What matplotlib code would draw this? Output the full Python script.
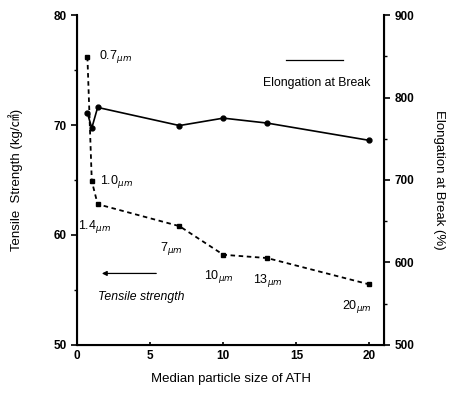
import matplotlib as mpl
import matplotlib.pyplot as plt
import numpy as np

mpl.rcParams['font.family'] = ['Liberation Sans', 'Noto Sans CJK JP', 'DejaVu Sans']

# tensile strength (left axis, dashed)
ts_size = [0.7, 1.0, 1.4, 7, 10, 13, 20]
ts_val = [76.2, 64.9, 62.8, 60.8, 58.2, 57.9, 55.5]
ts_lab = ['0.7', '1.0', '1.4', '7', '10', '13', '20']

# elongation at break (right axis, solid)
el_size = [0.7, 1.0, 1.4, 7, 10, 13, 20]
el_val = [781, 763, 788, 766, 775, 769, 748]

fig = plt.figure(figsize=(4.54, 3.96), dpi=100)
ax = fig.add_axes([0.17, 0.129, 0.676, 0.833])
ax2 = ax.twinx()

ax.plot(ts_size, ts_val, color='black', linestyle=(0, (2.5, 2)), linewidth=1.3,
        marker='s', markersize=3.5)
ax2.plot(el_size, el_val, color='black', linestyle='-', linewidth=1.2,
         marker='o', markersize=3.5)

ax.set_xlim(0, 21)
ax.set_ylim(50, 80)
ax2.set_ylim(500, 900)

ax.set_xticks([0, 5, 10, 15, 20])
ax.set_yticks([50, 60, 70, 80])
ax.set_yticks([55, 65, 75], minor=True)
ax2.set_yticks([500, 600, 700, 800, 900])
ax2.set_yticks([550, 650, 750, 850], minor=True)

for a in (ax, ax2):
    a.spines['top'].set_visible(False)
    a.tick_params(labelsize=8.5, width=1.2, length=4)
    a.tick_params(which='minor', width=1, length=2.5)
    for lab in a.get_xticklabels() + a.get_yticklabels():
        lab.set_fontweight('bold')
ax.spines['left'].set_linewidth(1.5)
ax2.spines['right'].set_linewidth(1.5)
ax.spines['bottom'].set_linewidth(1.5)
ax.tick_params(axis='x', direction='in', length=2)

ax.set_xlabel('Median particle size of ATH', fontsize=9.5, labelpad=8)
ax.set_ylabel('Tensile  Strength (kg/㎠)', fontsize=9.5, labelpad=22)
ax2.set_ylabel('Elongation at Break (%)', fontsize=9.5, rotation=-90, labelpad=22)

# point labels
offs = [(8, 0), (6, 0), (-14, -16), (-14, -16), (-14, -16), (-10, -16), (-20, -16)]
for x, y, t, o in zip(ts_size, ts_val, ts_lab, offs):
    ax.annotate(t + r'$_{\mu m}$', (x, y), xytext=o, textcoords='offset points',
                fontsize=9, va='center')

# legend arrows
ax.annotate('', xy=(1.5, 56.5), xytext=(5.6, 56.5),
            arrowprops=dict(arrowstyle='-|>', color='black', lw=0.9,
                            mutation_scale=7))
ax.text(1.4, 54.4, 'Tensile strength', fontsize=8.8, style='italic', va='center')
ax.plot([14.3, 18.2], [75.9, 75.9], color='black', linewidth=0.9)
ax.text(12.7, 73.8, 'Elongation at Break', fontsize=8.8, va='center')

fig.savefig('out.png', dpi=100)
